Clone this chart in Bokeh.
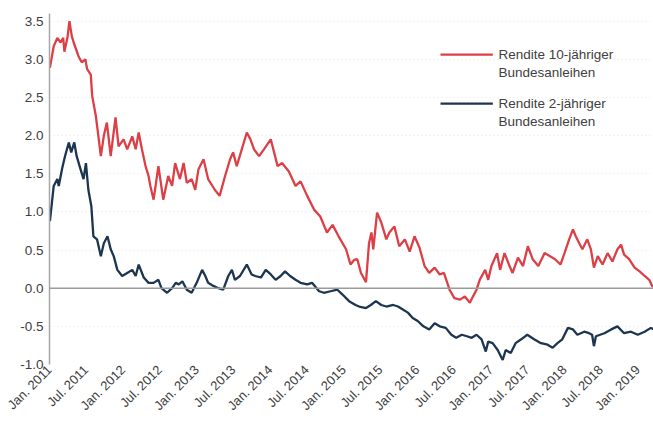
import pandas as pd
from bokeh.plotting import figure
from bokeh.models import Range1d, FixedTicker, Span, NumeralTickFormatter, ColumnDataSource
from bokeh.core.properties import value
from bokeh.embed import file_html
from bokeh.resources import INLINE

# ---------------- data ----------------
dates_10y = [
    "2011-01-03", "2011-01-22", "2011-02-09", "2011-02-25", "2011-03-10", "2011-03-16", "2011-04-01", "2011-04-10",
    "2011-04-22", "2011-05-01", "2011-05-25", "2011-06-10", "2011-06-28", "2011-07-07", "2011-07-25", "2011-08-01",
    "2011-08-19", "2011-09-01", "2011-09-13", "2011-09-28", "2011-10-13", "2011-11-01", "2011-11-25", "2011-12-10",
    "2012-01-04", "2012-01-22", "2012-02-16", "2012-03-04", "2012-03-19", "2012-04-04", "2012-04-22", "2012-05-07",
    "2012-05-16", "2012-06-01", "2012-06-25", "2012-07-19", "2012-08-13", "2012-09-01", "2012-09-16", "2012-10-10",
    "2012-10-28", "2012-11-13", "2012-12-07", "2012-12-25", "2013-01-10", "2013-02-04", "2013-02-27", "2013-04-01",
    "2013-04-25", "2013-05-22", "2013-06-16", "2013-07-01", "2013-07-19", "2013-08-13", "2013-09-07", "2013-09-25",
    "2013-10-13", "2013-11-07", "2013-12-01", "2014-01-04", "2014-02-07", "2014-03-01", "2014-04-04", "2014-05-07",
    "2014-06-01", "2014-07-04", "2014-08-07", "2014-09-07", "2014-10-10", "2014-11-07", "2014-12-07", "2015-01-13",
    "2015-02-04", "2015-02-22", "2015-03-10", "2015-03-28", "2015-04-22", "2015-05-07", "2015-05-19", "2015-05-28",
    "2015-06-16", "2015-07-07", "2015-08-01", "2015-08-16", "2015-09-10", "2015-10-04", "2015-11-01", "2015-11-25",
    "2015-12-19", "2016-01-13", "2016-02-07", "2016-03-01", "2016-03-28", "2016-04-22", "2016-05-13", "2016-06-10",
    "2016-07-04", "2016-08-01", "2016-08-25", "2016-09-19", "2016-10-04", "2016-10-22", "2016-11-07", "2016-12-04",
    "2016-12-19", "2017-01-04", "2017-02-01", "2017-02-16", "2017-03-10", "2017-04-04", "2017-04-19", "2017-05-16",
    "2017-06-10", "2017-07-04", "2017-07-28", "2017-08-25", "2017-09-25", "2017-10-22", "2017-11-16", "2017-12-13",
    "2018-01-02", "2018-01-25", "2018-02-13", "2018-02-27", "2018-03-16", "2018-04-01", "2018-04-25", "2018-05-13",
    "2018-05-28", "2018-06-16", "2018-07-10", "2018-08-04", "2018-08-28", "2018-09-22", "2018-10-10", "2018-10-25",
    "2018-11-19", "2018-12-16", "2019-01-10", "2019-02-04", "2019-02-27", "2019-03-13", "2019-03-19",
]
yield_10y = [
    2.89, 3.17, 3.28, 3.22, 3.28, 3.10, 3.30, 3.50,
    3.30, 3.22, 3.04, 2.96, 3.00, 2.87, 2.80, 2.52,
    2.26, 1.99, 1.73, 2.00, 2.17, 1.73, 2.24, 1.86,
    1.95, 1.82, 1.99, 1.82, 2.04, 1.82, 1.60, 1.47,
    1.34, 1.16, 1.60, 1.16, 1.47, 1.34, 1.64, 1.43,
    1.64, 1.38, 1.43, 1.29, 1.56, 1.69, 1.43, 1.29,
    1.21, 1.47, 1.69, 1.78, 1.60, 1.82, 2.04, 1.95,
    1.82, 1.73, 1.82, 1.95, 1.60, 1.64, 1.53, 1.34,
    1.40, 1.21, 1.03, 0.94, 0.73, 0.83, 0.68, 0.51,
    0.31, 0.37, 0.38, 0.20, 0.08, 0.59, 0.73, 0.51,
    0.99, 0.86, 0.64, 0.73, 0.81, 0.55, 0.64, 0.48,
    0.68, 0.53, 0.29, 0.20, 0.27, 0.18, 0.20, -0.02,
    -0.13, -0.15, -0.11, -0.19, -0.11, -0.02, 0.11, 0.24,
    0.11, 0.29, 0.46, 0.24, 0.46, 0.29, 0.20, 0.40,
    0.29, 0.55, 0.38, 0.29, 0.46, 0.42, 0.38, 0.31,
    0.46, 0.64, 0.77, 0.68, 0.59, 0.51, 0.64, 0.51,
    0.27, 0.42, 0.31, 0.46, 0.35, 0.51, 0.57, 0.44,
    0.38, 0.27, 0.22, 0.16, 0.11, 0.03, 0.02,
]

dates_2y = [
    "2011-01-03", "2011-01-13", "2011-01-22", "2011-02-09", "2011-02-16", "2011-03-04", "2011-03-19", "2011-04-07",
    "2011-04-19", "2011-05-04", "2011-05-16", "2011-06-04", "2011-06-19", "2011-07-01", "2011-07-13", "2011-07-28",
    "2011-08-07", "2011-08-25", "2011-09-13", "2011-09-28", "2011-10-16", "2011-11-01", "2011-11-16", "2011-12-04",
    "2011-12-28", "2012-01-22", "2012-02-16", "2012-03-04", "2012-03-19", "2012-04-13", "2012-05-07", "2012-06-01",
    "2012-06-25", "2012-07-10", "2012-08-07", "2012-09-01", "2012-09-19", "2012-10-04", "2012-10-22", "2012-11-13",
    "2012-12-07", "2013-01-01", "2013-01-28", "2013-02-13", "2013-02-27", "2013-03-25", "2013-04-19", "2013-05-13",
    "2013-06-07", "2013-06-25", "2013-07-10", "2013-08-04", "2013-09-07", "2013-10-01", "2013-10-19", "2013-11-16",
    "2013-12-10", "2014-01-04", "2014-01-28", "2014-02-22", "2014-03-16", "2014-04-10", "2014-05-07", "2014-06-01",
    "2014-07-04", "2014-07-28", "2014-09-01", "2014-09-25", "2014-10-28", "2014-12-01", "2014-12-25", "2015-01-28",
    "2015-03-01", "2015-03-19", "2015-04-22", "2015-05-16", "2015-06-10", "2015-07-07", "2015-08-01", "2015-09-04",
    "2015-09-28", "2015-10-22", "2015-11-16", "2015-12-10", "2016-01-04", "2016-02-01", "2016-03-01", "2016-03-28",
    "2016-04-22", "2016-05-22", "2016-06-19", "2016-07-13", "2016-08-10", "2016-09-04", "2016-09-28", "2016-10-22",
    "2016-11-16", "2016-12-07", "2016-12-19", "2017-01-10", "2017-02-04", "2017-03-01", "2017-03-16", "2017-04-10",
    "2017-05-04", "2017-06-01", "2017-07-01", "2017-08-04", "2017-09-07", "2017-10-10", "2017-11-04", "2017-11-28",
    "2017-12-22", "2018-01-19", "2018-02-13", "2018-03-07", "2018-04-10", "2018-05-04", "2018-05-19", "2018-05-28",
    "2018-06-07", "2018-07-19", "2018-08-22", "2018-09-22", "2018-10-25", "2018-11-28", "2019-01-01", "2019-02-04",
    "2019-03-07", "2019-03-19",
]
yield_2y = [
    0.88, 1.12, 1.34, 1.43, 1.34, 1.56, 1.73, 1.91,
    1.78, 1.91, 1.73, 1.56, 1.43, 1.64, 1.29, 1.07,
    0.68, 0.64, 0.42, 0.59, 0.68, 0.51, 0.42, 0.24,
    0.16, 0.20, 0.24, 0.16, 0.31, 0.14, 0.07, 0.07,
    0.11, 0.00, -0.06, 0.00, 0.07, 0.05, 0.09, -0.02,
    -0.06, 0.07, 0.24, 0.16, 0.07, 0.03, 0.00, -0.02,
    0.16, 0.24, 0.11, 0.16, 0.31, 0.18, 0.16, 0.14,
    0.24, 0.18, 0.11, 0.16, 0.22, 0.16, 0.11, 0.07,
    0.05, 0.07, -0.04, -0.06, -0.04, -0.02, -0.08, -0.17,
    -0.22, -0.24, -0.26, -0.22, -0.17, -0.22, -0.24, -0.22,
    -0.24, -0.28, -0.32, -0.39, -0.43, -0.50, -0.54, -0.46,
    -0.50, -0.52, -0.61, -0.65, -0.61, -0.63, -0.65, -0.61,
    -0.67, -0.83, -0.70, -0.72, -0.81, -0.94, -0.81, -0.85,
    -0.72, -0.67, -0.61, -0.67, -0.72, -0.74, -0.78, -0.72,
    -0.67, -0.52, -0.54, -0.61, -0.57, -0.59, -0.61, -0.76,
    -0.63, -0.59, -0.54, -0.50, -0.59, -0.57, -0.61, -0.57,
    -0.52, -0.54,
]

series_names = [["Rendite 10-jähriger", "Bundesanleihen"], ["Rendite 2-jähriger", "Bundesanleihen"]]

tick_dates = ["2011-01-01", "2011-07-01", "2012-01-01", "2012-07-01", "2013-01-01", "2013-07-01",
              "2014-01-01", "2014-07-01", "2015-01-01", "2015-07-01", "2016-01-01", "2016-07-01",
              "2017-01-01", "2017-07-01", "2018-01-01", "2018-07-01", "2019-01-01"]
tick_labels = ["Jan. 2011", "Jul. 2011", "Jan. 2012", "Jul. 2012", "Jan. 2013", "Jul. 2013",
               "Jan. 2014", "Jul. 2014", "Jan. 2015", "Jul. 2015", "Jan. 2016", "Jul. 2016",
               "Jan. 2017", "Jul. 2017", "Jan. 2018", "Jul. 2018", "Jan. 2019"]
y_ticks = [-1.0, -0.5, 0.0, 0.5, 1.0, 1.5, 2.0, 2.5, 3.0, 3.5]

# ---------------- styling ----------------
RED = "#dc3f45"
NAVY = "#1c3550"
FONT = "Liberation Sans"
TXT = "#404040"

p = figure(width=653, height=422, x_axis_type="datetime", output_backend="svg",
           toolbar_location=None, min_border_left=49, min_border_right=0,
           min_border_top=13, min_border_bottom=58)
p.x_range = Range1d(start=pd.Timestamp("2011-01-01"), end=pd.Timestamp("2019-03-20"))
p.y_range = Range1d(start=-1.0, end=3.6)
p.outline_line_color = None
p.background_fill_color = "white"
p.border_fill_color = "white"

p.xgrid.grid_line_color = None
p.ygrid.grid_line_color = "#e6e6e6"
p.ygrid.grid_line_dash = "1 3"
p.ygrid.grid_line_width = 1

tick_ms = [float(pd.Timestamp(d).value // 10**6) for d in tick_dates]
p.xaxis.ticker = FixedTicker(ticks=tick_ms)
p.xaxis.major_label_overrides = {t: l for t, l in zip(tick_ms, tick_labels)}
p.xaxis.major_label_orientation = 0.785398
p.xaxis.axis_line_color = None
p.xaxis.major_tick_line_color = None
p.xaxis.minor_tick_line_color = None
p.xaxis.major_tick_out = 0
p.xaxis.major_tick_in = 0
p.xaxis.minor_tick_out = 0
p.xaxis.major_label_standoff = 3
p.xaxis.major_label_text_font = FONT
p.xaxis.major_label_text_font_size = "13px"
p.xaxis.major_label_text_color = TXT

p.yaxis.ticker = FixedTicker(ticks=y_ticks)
p.yaxis.formatter = NumeralTickFormatter(format="0.0")
p.yaxis.axis_line_color = "#a6a6a6"
p.yaxis.axis_line_width = 1.5
p.yaxis.major_tick_line_color = None
p.yaxis.minor_tick_line_color = None
p.yaxis.major_tick_out = 0
p.yaxis.major_tick_in = 0
p.yaxis.minor_tick_out = 0
p.yaxis.major_label_standoff = 6
p.yaxis.major_label_text_font = FONT
p.yaxis.major_label_text_font_size = "13.5px"
p.yaxis.major_label_text_color = TXT

p.add_layout(Span(location=0, dimension="width", line_color="#9a9a9a", line_width=1.5))

src10 = ColumnDataSource(dict(x=pd.to_datetime(dates_10y), y=yield_10y))
src2 = ColumnDataSource(dict(x=pd.to_datetime(dates_2y), y=yield_2y))
p.line("x", "y", source=src10, line_color=RED, line_width=2.3)
p.line("x", "y", source=src2, line_color=NAVY, line_width=2.3)

# ---------------- legend (layout positions in data units) ----------------
leg_x0 = pd.Timestamp("2016-04-26")
leg_x1 = pd.Timestamp("2017-01-11")
leg_tx = pd.Timestamp("2017-02-08")
leg_rows = [(3.06, 2.83), (2.42, 2.19)]
for color, names, (ya, yb) in zip([RED, NAVY], series_names, leg_rows):
    p.line([leg_x0, leg_x1], [ya, ya], line_color=color, line_width=2.3)
    p.text(x=[leg_tx, leg_tx], y=[ya, yb], text=names, text_font=value(FONT),
           text_font_size="13.5px", text_color=TXT, text_baseline="middle", text_align="left")

open("out.html", "w").write(file_html(p, INLINE))
